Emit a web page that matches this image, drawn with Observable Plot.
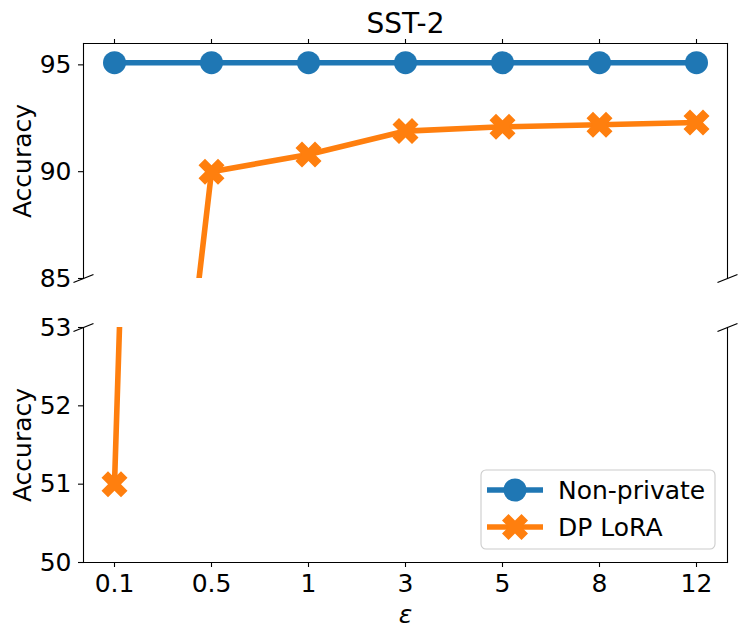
<!DOCTYPE html>
<html>
<head>
<meta charset="utf-8">
<script src="https://cdn.jsdelivr.net/npm/d3@7"></script>
<script src="https://cdn.jsdelivr.net/npm/@observablehq/plot@0.6"></script>
<style>
  html, body { margin: 0; padding: 0; background: #fff; }
  #chart { position: relative; width: 748px; height: 638px; overflow: hidden; font-family: "DejaVu Sans", sans-serif; }
  #chart > svg { display: block; }
  #legend { position: absolute; left: 480px; top: 469px; }
</style>
</head>
<body>
<div id="chart"></div>
<script>
// ---- data ----
const epsilons = ["0.1", "0.5", "1", "3", "5", "8", "12"];
const nonPrivate = [95.1, 95.1, 95.1, 95.1, 95.1, 95.1, 95.1];
const dpLora = [51.0, 90.0, 90.8, 91.9, 92.1, 92.2, 92.3];
const seriesNames = ["Non-private", "DP LoRA"];
const seriesColors = ["#1f77b4", "#ff7f0e"];
const topTicks = [85, 90, 95];
const bottomTicks = [50, 51, 52, 53];
const topDomain = [85, 96];
const bottomDomain = [50, 53];
const titleText = "SST-2";
const yLabel = "Accuracy";
const xLabel = "ε";

const rows = epsilons.flatMap((e, i) => [
  {eps: e, acc: nonPrivate[i], series: seriesNames[0]},
  {eps: e, acc: dpLora[i], series: seriesNames[1]}
]);
const rowsNP = rows.filter(d => d.series === seriesNames[0]);
const rowsDP = rows.filter(d => d.series === seriesNames[1]);

// matplotlib-like filled "X" marker
const xFilled = {
  draw(ctx, size) {
    const h = Math.sqrt(size / Math.PI);
    const pts = [[-1,-2],[0,-1],[1,-2],[2,-1],[1,0],[2,1],[1,2],[0,1],[-1,2],[-2,1],[-1,0],[-2,-1]];
    pts.forEach(([u, v], i) => {
      const x = u / 2 * h, y = v / 2 * h;
      if (i) ctx.lineTo(x, y); else ctx.moveTo(x, y);
    });
    ctx.closePath();
  }
};
// diagonal break mark
const slash = {
  draw(ctx, size) {
    const r = Math.sqrt(size / Math.PI);
    ctx.moveTo(-r, 0.4 * r);
    ctx.lineTo(r, -0.4 * r);
  }
};

const LW = 5.6, RC = 11.5, RX = 13;
const common = {
  width: 748,
  marginLeft: 83,
  marginRight: 21,
  style: {fontFamily: "DejaVu Sans, sans-serif", fontSize: "25px", color: "black", background: "transparent"},
  x: {type: "point", domain: epsilons, padding: 0.3},
  color: {domain: seriesNames, range: seriesColors}
};
const dataMarks = () => [
  Plot.line(rowsNP, {x: "eps", y: "acc", stroke: "series", strokeWidth: LW, clip: true}),
  Plot.dot(rowsNP, {x: "eps", y: "acc", fill: "series", r: RC, clip: true}),
  Plot.line(rowsDP, {x: "eps", y: "acc", stroke: "series", strokeWidth: LW, clip: true}),
  Plot.dot(rowsDP, {x: "eps", y: "acc", fill: "series", r: RX, symbol: xFilled, clip: true})
];
const breakMark = (anchor) => Plot.dot([0], {frameAnchor: anchor, symbol: slash, r: 10, stroke: "black", strokeWidth: 1.2, fill: "none"});
const yLabelMark = () => Plot.text([yLabel], {frameAnchor: "left", text: d => d, rotate: -90, dx: -61, textAnchor: "middle", lineAnchor: "middle", fontSize: 25});
const fmt = d => String(d);

const topPlot = Plot.plot({
  ...common,
  height: 300,
  marginTop: 43,
  marginBottom: 22,
  y: {domain: topDomain},
  marks: [
    Plot.axisY({ticks: topTicks, tickFormat: fmt, tickSize: 5, tickPadding: 7, strokeWidth: 1.1, label: null}),
    Plot.axisX({anchor: "top", tickSize: 5, strokeWidth: 1.1, tickFormat: () => "", label: null}),
    ...dataMarks(),
    Plot.frame({anchor: "left", strokeWidth: 1.1}),
    Plot.frame({anchor: "top", strokeWidth: 1.1}),
    Plot.frame({anchor: "right", strokeWidth: 1.1}),
    breakMark("bottom-left"),
    breakMark("bottom-right"),
    yLabelMark(),
    Plot.text([titleText], {frameAnchor: "top", text: d => d, dy: -19, fontSize: 28, textAnchor: "middle", lineAnchor: "middle"})
  ]
});

const bottomPlot = Plot.plot({
  ...common,
  height: 338,
  marginTop: 27,
  marginBottom: 76,
  y: {domain: bottomDomain},
  marks: [
    Plot.axisY({ticks: bottomTicks, tickFormat: fmt, tickSize: 5, tickPadding: 7, strokeWidth: 1.1, label: null}),
    Plot.axisX({anchor: "bottom", tickSize: 5, tickPadding: 7, strokeWidth: 1.1, label: null}),
    ...dataMarks(),
    Plot.frame({anchor: "left", strokeWidth: 1.1}),
    Plot.frame({anchor: "bottom", strokeWidth: 1.1}),
    Plot.frame({anchor: "right", strokeWidth: 1.1}),
    breakMark("top-left"),
    breakMark("top-right"),
    yLabelMark(),
    Plot.text([xLabel], {frameAnchor: "bottom", text: d => d, dy: 52.7, fontSize: 25, fontStyle: "italic", textAnchor: "middle", lineAnchor: "middle"})
  ]
});

const chart = document.getElementById("chart");
chart.appendChild(topPlot);
chart.appendChild(bottomPlot);

// ---- legend ----
const lg = d3.select(chart).append("svg").attr("id", "legend")
  .attr("width", 237).attr("height", 82);
lg.append("rect").attr("x", 1).attr("y", 1).attr("width", 234).attr("height", 79)
  .attr("rx", 5).attr("fill", "white").attr("fill-opacity", 0.8)
  .attr("stroke", "#cccccc").attr("stroke-width", 1.1);
seriesNames.forEach((name, i) => {
  const cy = 21 + 37 * i;
  const g = lg.append("g");
  g.append("line").attr("x1", 7).attr("x2", 63).attr("y1", cy).attr("y2", cy)
    .attr("stroke", seriesColors[i]).attr("stroke-width", LW);
  const sym = i === 0 ? d3.symbolCircle : xFilled;
  const r = i === 0 ? RC : RX;
  g.append("path").attr("transform", `translate(35,${cy})`)
    .attr("d", d3.symbol().type(sym).size(Math.PI * r * r)())
    .attr("fill", seriesColors[i]);
  g.append("text").attr("x", 78).attr("y", cy + 8.5)
    .attr("font-family", "DejaVu Sans, sans-serif").attr("font-size", 25)
    .attr("fill", "black").text(name);
});
</script>
</body>
</html>
